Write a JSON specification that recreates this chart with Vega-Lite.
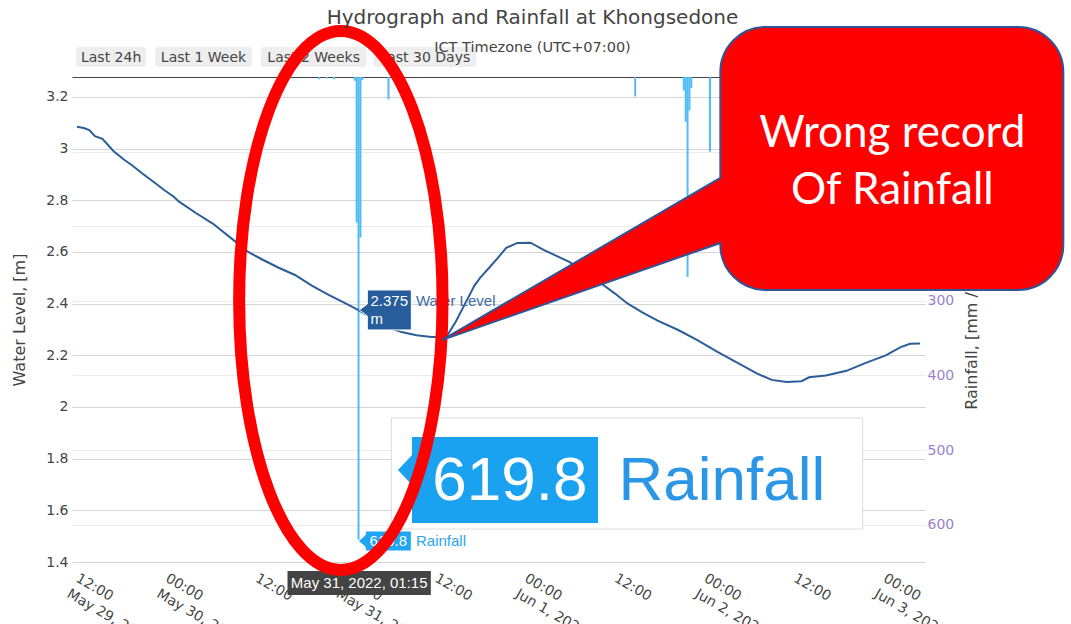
{
  "$schema": "https://vega.github.io/schema/vega-lite/v6.json",
  "width": 853,
  "height": 485,
  "autosize": {"type": "none"},
  "padding": {"left": 72, "top": 77, "right": 146, "bottom": 62},
  "background": "#ffffff",
  "config": {"view": {"stroke": null}, "axis": {"labelFont": "DejaVu Sans", "titleFont": "DejaVu Sans"}},
  "title": {
    "text": "Hydrograph and Rainfall at Khongsedone",
    "subtitle": "ICT Timezone (UTC+07:00)",
    "anchor": "middle", "frame": "group", "dx": 34, "offset": -48,
    "font": "DejaVu Sans", "fontSize": 20, "fontWeight": "normal", "color": "#444444",
    "subtitleFont": "DejaVu Sans", "subtitleFontSize": 14.5, "subtitleColor": "#444444", "subtitlePadding": 13
  },
  "datasets": {
    "rain": [
      {"time": "2022-05-30T20:00", "rain": 3},
      {"time": "2022-05-30T21:00", "rain": 2},
      {"time": "2022-05-30T22:00", "rain": 3},
      {"time": "2022-05-31T00:45", "rain": 5},
      {"time": "2022-05-31T01:00", "rain": 195},
      {"time": "2022-05-31T01:15", "rain": 619.8},
      {"time": "2022-05-31T01:30", "rain": 215},
      {"time": "2022-05-31T01:45", "rain": 4},
      {"time": "2022-05-31T05:15", "rain": 30},
      {"time": "2022-06-01T14:15", "rain": 26},
      {"time": "2022-06-01T20:45", "rain": 18},
      {"time": "2022-06-01T21:00", "rain": 60},
      {"time": "2022-06-01T21:15", "rain": 268},
      {"time": "2022-06-01T21:30", "rain": 45},
      {"time": "2022-06-01T21:45", "rain": 15},
      {"time": "2022-06-02T00:15", "rain": 100}
    ],
    "level": [
      {"time": "2022-05-29T11:36", "level": 3.085},
      {"time": "2022-05-29T12:30", "level": 3.080},
      {"time": "2022-05-29T13:15", "level": 3.072},
      {"time": "2022-05-29T14:00", "level": 3.048},
      {"time": "2022-05-29T15:00", "level": 3.038},
      {"time": "2022-05-29T16:30", "level": 2.990},
      {"time": "2022-05-29T18:00", "level": 2.955},
      {"time": "2022-05-29T19:00", "level": 2.935},
      {"time": "2022-05-29T20:15", "level": 2.906},
      {"time": "2022-05-29T22:00", "level": 2.868},
      {"time": "2022-05-29T23:15", "level": 2.840},
      {"time": "2022-05-30T00:30", "level": 2.815},
      {"time": "2022-05-30T01:15", "level": 2.795},
      {"time": "2022-05-30T03:30", "level": 2.751},
      {"time": "2022-05-30T05:45", "level": 2.710},
      {"time": "2022-05-30T08:30", "level": 2.647},
      {"time": "2022-05-30T10:30", "level": 2.600},
      {"time": "2022-05-30T12:30", "level": 2.569},
      {"time": "2022-05-30T14:30", "level": 2.540},
      {"time": "2022-05-30T16:45", "level": 2.511},
      {"time": "2022-05-30T19:00", "level": 2.470},
      {"time": "2022-05-30T21:15", "level": 2.434},
      {"time": "2022-05-30T23:15", "level": 2.405},
      {"time": "2022-05-31T01:15", "level": 2.375},
      {"time": "2022-05-31T03:00", "level": 2.345},
      {"time": "2022-05-31T05:00", "level": 2.310},
      {"time": "2022-05-31T07:00", "level": 2.290},
      {"time": "2022-05-31T09:00", "level": 2.278},
      {"time": "2022-05-31T11:00", "level": 2.271},
      {"time": "2022-05-31T13:00", "level": 2.272},
      {"time": "2022-05-31T14:15", "level": 2.330},
      {"time": "2022-05-31T15:30", "level": 2.400},
      {"time": "2022-05-31T16:45", "level": 2.470},
      {"time": "2022-05-31T17:30", "level": 2.500},
      {"time": "2022-05-31T18:45", "level": 2.540},
      {"time": "2022-05-31T20:00", "level": 2.581},
      {"time": "2022-05-31T21:00", "level": 2.616},
      {"time": "2022-05-31T22:30", "level": 2.635},
      {"time": "2022-06-01T00:15", "level": 2.636},
      {"time": "2022-06-01T02:00", "level": 2.608},
      {"time": "2022-06-01T05:30", "level": 2.561},
      {"time": "2022-06-01T07:30", "level": 2.520},
      {"time": "2022-06-01T09:30", "level": 2.483},
      {"time": "2022-06-01T11:30", "level": 2.440},
      {"time": "2022-06-01T13:15", "level": 2.400},
      {"time": "2022-06-01T15:15", "level": 2.365},
      {"time": "2022-06-01T17:15", "level": 2.334},
      {"time": "2022-06-01T20:00", "level": 2.298},
      {"time": "2022-06-01T22:30", "level": 2.260},
      {"time": "2022-06-02T01:15", "level": 2.213},
      {"time": "2022-06-02T04:00", "level": 2.170},
      {"time": "2022-06-02T06:30", "level": 2.130},
      {"time": "2022-06-02T08:30", "level": 2.105},
      {"time": "2022-06-02T10:30", "level": 2.097},
      {"time": "2022-06-02T12:30", "level": 2.100},
      {"time": "2022-06-02T13:30", "level": 2.115},
      {"time": "2022-06-02T15:45", "level": 2.122},
      {"time": "2022-06-02T18:30", "level": 2.140},
      {"time": "2022-06-02T21:00", "level": 2.170},
      {"time": "2022-06-02T23:45", "level": 2.200},
      {"time": "2022-06-03T01:45", "level": 2.232},
      {"time": "2022-06-03T03:00", "level": 2.245},
      {"time": "2022-06-03T04:20", "level": 2.246}
    ],
    "texts": [
      {"kind": "btn", "time": "2022-05-29T16:10", "level": 3.3357, "label": "Last 24h"},
      {"kind": "btn", "time": "2022-05-30T04:31", "level": 3.3357, "label": "Last 1 Week"},
      {"kind": "btn", "time": "2022-05-30T19:15", "level": 3.3357, "label": "Last 2 Weeks"},
      {"kind": "btn", "time": "2022-05-31T10:07", "level": 3.3357, "label": "Last 30 Days"},
      {"kind": "tipw", "time": "2022-05-31T02:51", "level": 2.3892, "label": "2.375"},
      {"kind": "tipw", "time": "2022-05-31T02:51", "level": 2.3214, "label": "m"},
      {"kind": "tipw", "time": "2022-05-31T02:43", "level": 1.4619, "label": "619.8"},
      {"kind": "tipn", "time": "2022-05-31T08:56", "level": 2.3892, "label": "Water Level"},
      {"kind": "tipn", "time": "2022-05-31T08:56", "level": 1.4619, "label": "Rainfall"},
      {"kind": "hover", "time": "2022-05-31T01:20", "level": 1.2993, "label": "May 31, 2022, 01:15"},
      {"kind": "insetnum", "time": "2022-05-31T21:29", "level": 1.64, "label": "619.8"},
      {"kind": "insetname", "time": "2022-06-01T12:01", "level": 1.64, "label": "Rainfall"},
      {"kind": "callout", "time": "2022-06-03T00:38", "level": 3.0066, "label": "Wrong record"},
      {"kind": "callout", "time": "2022-06-03T00:38", "level": 2.786, "label": "Of Rainfall"}
    ]
  },
  "layer": [
    {
      "data": {"name": "rain"},
      "mark": {"type": "bar", "width": 2, "color": "#4fbcf6"},
      "encoding": {
        "x": {
          "field": "time", "type": "temporal",
          "scale": {"domain": [{"year": 2022, "month": 5, "date": 29, "hours": 11, "minutes": 36}, {"year": 2022, "month": 6, "date": 3, "hours": 4, "minutes": 20}]},
          "axis": {"orient": "top", "labels": false, "ticks": false, "grid": false, "domain": true, "domainColor": "#444444", "domainWidth": 1, "title": null}
        },
        "y": {
          "field": "rain", "type": "quantitative",
          "scale": {"domain": [0, 650], "reverse": true, "nice": false},
          "axis": {
            "orient": "right", "values": [0, 100, 200, 300, 400, 500, 600], "format": "d",
            "grid": true, "gridColor": "#ececec", "ticks": false, "domain": false,
            "labelPadding": 2, "labelFontSize": 14, "labelColor": "#9b7fd0",
            "title": "Rainfall, [mm / 15min]", "titleFontSize": 16, "titleFontWeight": "normal", "titleColor": "#444444",
            "titleAngle": 270, "titlePadding": 26
          }
        }
      }
    },
    {
      "encoding": {
        "x": {
          "field": "time", "type": "temporal",
          "scale": {"domain": [{"year": 2022, "month": 5, "date": 29, "hours": 11, "minutes": 36}, {"year": 2022, "month": 6, "date": 3, "hours": 4, "minutes": 20}]},
          "axis": {
            "orient": "bottom",
            "values": [
              {"year": 2022, "month": 5, "date": 29, "hours": 12},
              {"year": 2022, "month": 5, "date": 30, "hours": 0},
              {"year": 2022, "month": 5, "date": 30, "hours": 12},
              {"year": 2022, "month": 5, "date": 31, "hours": 0},
              {"year": 2022, "month": 5, "date": 31, "hours": 12},
              {"year": 2022, "month": 6, "date": 1, "hours": 0},
              {"year": 2022, "month": 6, "date": 1, "hours": 12},
              {"year": 2022, "month": 6, "date": 2, "hours": 0},
              {"year": 2022, "month": 6, "date": 2, "hours": 12},
              {"year": 2022, "month": 6, "date": 3, "hours": 0}
            ],
            "labelExpr": "(datum.index == 0 || hours(datum.value) == 0) ? [timeFormat(datum.value, '%H:%M'), timeFormat(datum.value, '%b %-d, %Y')] : timeFormat(datum.value, '%H:%M')",
            "labelAngle": 30, "labelAlign": "left", "labelBaseline": "top", "labelPadding": 9,
            "labelFontSize": 14, "labelColor": "#444444", "labelLineHeight": 18,
            "labelOverlap": false, "labelFlush": false, "labelBound": false,
            "ticks": false, "domain": false, "grid": false, "title": null
          }
        },
        "y": {
          "field": "level", "type": "quantitative",
          "scale": {"domain": [1.4, 3.2774], "nice": false, "zero": false},
          "axis": {
            "orient": "left", "values": [1.4, 1.6, 1.8, 2, 2.2, 2.4, 2.6, 2.8, 3, 3.2], "format": "~g",
            "grid": true, "gridColor": "#d5d5d5", "ticks": false, "domain": false,
            "labelPadding": 4, "labelFontSize": 14, "labelColor": "#444444",
            "title": "Water Level, [m]", "titleFontSize": 16, "titleFontWeight": "normal", "titleColor": "#444444",
            "titlePadding": 18
          }
        }
      },
      "layer": [
        {"data": {"name": "level"}, "mark": {"type": "line", "color": "#2b5e99", "strokeWidth": 2}},
        {
          "data": {"values": [
            {"time": "2022-05-29T11:28", "time2": "2022-05-29T20:51", "level": 3.3938, "level2": 3.3164},
            {"time": "2022-05-29T22:03", "time2": "2022-05-30T10:59", "level": 3.3938, "level2": 3.3164},
            {"time": "2022-05-30T12:11", "time2": "2022-05-31T02:19", "level": 3.3938, "level2": 3.3164},
            {"time": "2022-05-31T03:15", "time2": "2022-05-31T17:00", "level": 3.3938, "level2": 3.3164}
          ], "format": {"parse": {"time2": "date"}}},
          "mark": {"type": "rect", "color": "#eeeeee", "cornerRadius": 3},
          "encoding": {"x2": {"field": "time2"}, "y2": {"field": "level2"}}
        },
        {
          "data": {"name": "texts"}, "transform": [{"filter": "datum.kind === 'btn'"}],
          "mark": {"type": "text", "font": "DejaVu Sans", "fontSize": 14, "color": "#444444", "align": "center", "baseline": "alphabetic"},
          "encoding": {"text": {"field": "label"}}
        },
        {
          "data": {"values": [{"time": "2022-05-31T05:22", "level": 2.3756}]},
          "mark": {"type": "point", "shape": "M -0.7333 -0.6667 L 0.7333 -0.6667 L 0.7333 0.6667 L -0.7333 0.6667 L -0.7333 0.2 L -1 0 L -0.7333 -0.2 Z", "size": 3600, "filled": true, "color": "#265d9a", "stroke": "#ffffff", "strokeWidth": 1, "opacity": 1}
        },
        {
          "data": {"values": [{"time": "2022-05-31T05:14", "level": 1.4813}]},
          "mark": {"type": "point", "shape": "M -0.7667 -0.3333 L 0.7667 -0.3333 L 0.7667 0.3333 L -0.7667 0.3333 L -0.7667 0.2 L -1 0 L -0.7667 -0.2 Z", "size": 3600, "filled": true, "color": "#1fa5f2", "stroke": "#ffffff", "strokeWidth": 1, "opacity": 1}
        },
        {
          "data": {"values": [{"time": "2022-05-30T15:45", "time2": "2022-05-31T10:55", "level": 1.3652, "level2": 1.2722}], "format": {"parse": {"time2": "date"}}},
          "mark": {"type": "rect", "color": "#444444"},
          "encoding": {"x2": {"field": "time2"}, "y2": {"field": "level2"}}
        },
        {
          "data": {"name": "texts"}, "transform": [{"filter": "datum.kind === 'tipw'"}],
          "mark": {"type": "text", "font": "Liberation Sans", "fontSize": 15, "color": "#ffffff", "align": "left", "baseline": "alphabetic"},
          "encoding": {"text": {"field": "label"}}
        },
        {
          "data": {"name": "texts"}, "transform": [{"filter": "datum.kind === 'tipn'"}],
          "mark": {"type": "text", "font": "Liberation Sans", "fontSize": 15, "align": "left", "baseline": "alphabetic"},
          "encoding": {
            "text": {"field": "label"},
            "color": {"field": "label", "type": "nominal", "scale": {"domain": ["Water Level", "Rainfall"], "range": ["#3d6ca3", "#2aa5f0"]}, "legend": null}
          }
        },
        {
          "data": {"name": "texts"}, "transform": [{"filter": "datum.kind === 'hover'"}],
          "mark": {"type": "text", "font": "Liberation Sans", "fontSize": 15, "color": "#ffffff", "align": "center", "baseline": "alphabetic"},
          "encoding": {"text": {"field": "label"}}
        },
        {
          "data": {"values": [{"time": "2022-05-31T05:38", "time2": "2022-06-02T20:40", "level": 1.9575, "level2": 1.5278}], "format": {"parse": {"time2": "date"}}},
          "mark": {"type": "rect", "color": "#ffffff", "stroke": "#dcdcdc", "strokeWidth": 1},
          "encoding": {"x2": {"field": "time2"}, "y2": {"field": "level2"}}
        },
        {
          "data": {"values": [{"time": "2022-05-31T20:50", "level": 1.7175}]},
          "mark": {"type": "point", "shape": "M -0.8692 -0.4019 L 0.8692 -0.4019 L 0.8692 0.4019 L -0.8692 0.4019 L -0.8692 0.0467 L -1 -0.0935 L -0.8692 -0.2336 Z", "size": 45796, "filled": true, "color": "#1aa1ef", "strokeWidth": 0, "opacity": 1}
        },
        {
          "data": {"name": "texts"}, "transform": [{"filter": "datum.kind === 'insetnum'"}],
          "mark": {"type": "text", "font": "Liberation Sans", "fontSize": 62, "color": "#ffffff", "align": "center", "baseline": "alphabetic"},
          "encoding": {"text": {"field": "label"}}
        },
        {
          "data": {"name": "texts"}, "transform": [{"filter": "datum.kind === 'insetname'"}],
          "mark": {"type": "text", "font": "Liberation Sans", "fontSize": 62, "color": "#2c96e6", "align": "left", "baseline": "alphabetic"},
          "encoding": {"text": {"field": "label"}}
        },
        {
          "data": {"values": [{"time": "2022-05-30T22:53", "level": 2.4124}]},
          "mark": {"type": "point", "shape": "M 0 -1 C 0.2084 -1 0.3774 -0.5523 0.3774 0 C 0.3774 0.5523 0.2084 1 0 1 C -0.2084 1 -0.3774 0.5523 -0.3774 0 C -0.3774 -0.5523 -0.2084 -1 0 -1 Z", "size": 290521, "filled": false, "color": "#ff0000", "strokeWidth": 12, "opacity": 1}
        },
        {
          "data": {"values": [{"time": "2022-06-03T00:34", "level": 2.9622}]},
          "mark": {"type": "point", "shape": "M -0.2811 -0.2922 L 0.2811 -0.2922 C 0.3363 -0.2922 0.3811 -0.2474 0.3811 -0.1922 L 0.3811 0.1922 C 0.3811 0.2474 0.3363 0.2922 0.2811 0.2922 L -0.2811 0.2922 C -0.3363 0.2922 -0.3811 0.2474 -0.3811 0.1922 L -0.3811 0.1878 L -0.9989 0.4033 L -0.3811 0.0433 L -0.3811 -0.1922 C -0.3811 -0.2474 -0.3363 -0.2922 -0.2811 -0.2922 Z", "size": 810000, "filled": true, "color": "#ff0000", "stroke": "#2f5597", "strokeWidth": 2, "opacity": 1}
        },
        {
          "data": {"name": "texts"}, "transform": [{"filter": "datum.kind === 'callout'"}],
          "mark": {"type": "text", "font": "Lato", "fontSize": 44, "color": "#ffffff", "align": "center", "baseline": "alphabetic"},
          "encoding": {"text": {"field": "label"}}
        }
      ]
    }
  ],
  "resolve": {"scale": {"y": "independent"}, "axis": {"x": "independent", "y": "independent"}}
}
